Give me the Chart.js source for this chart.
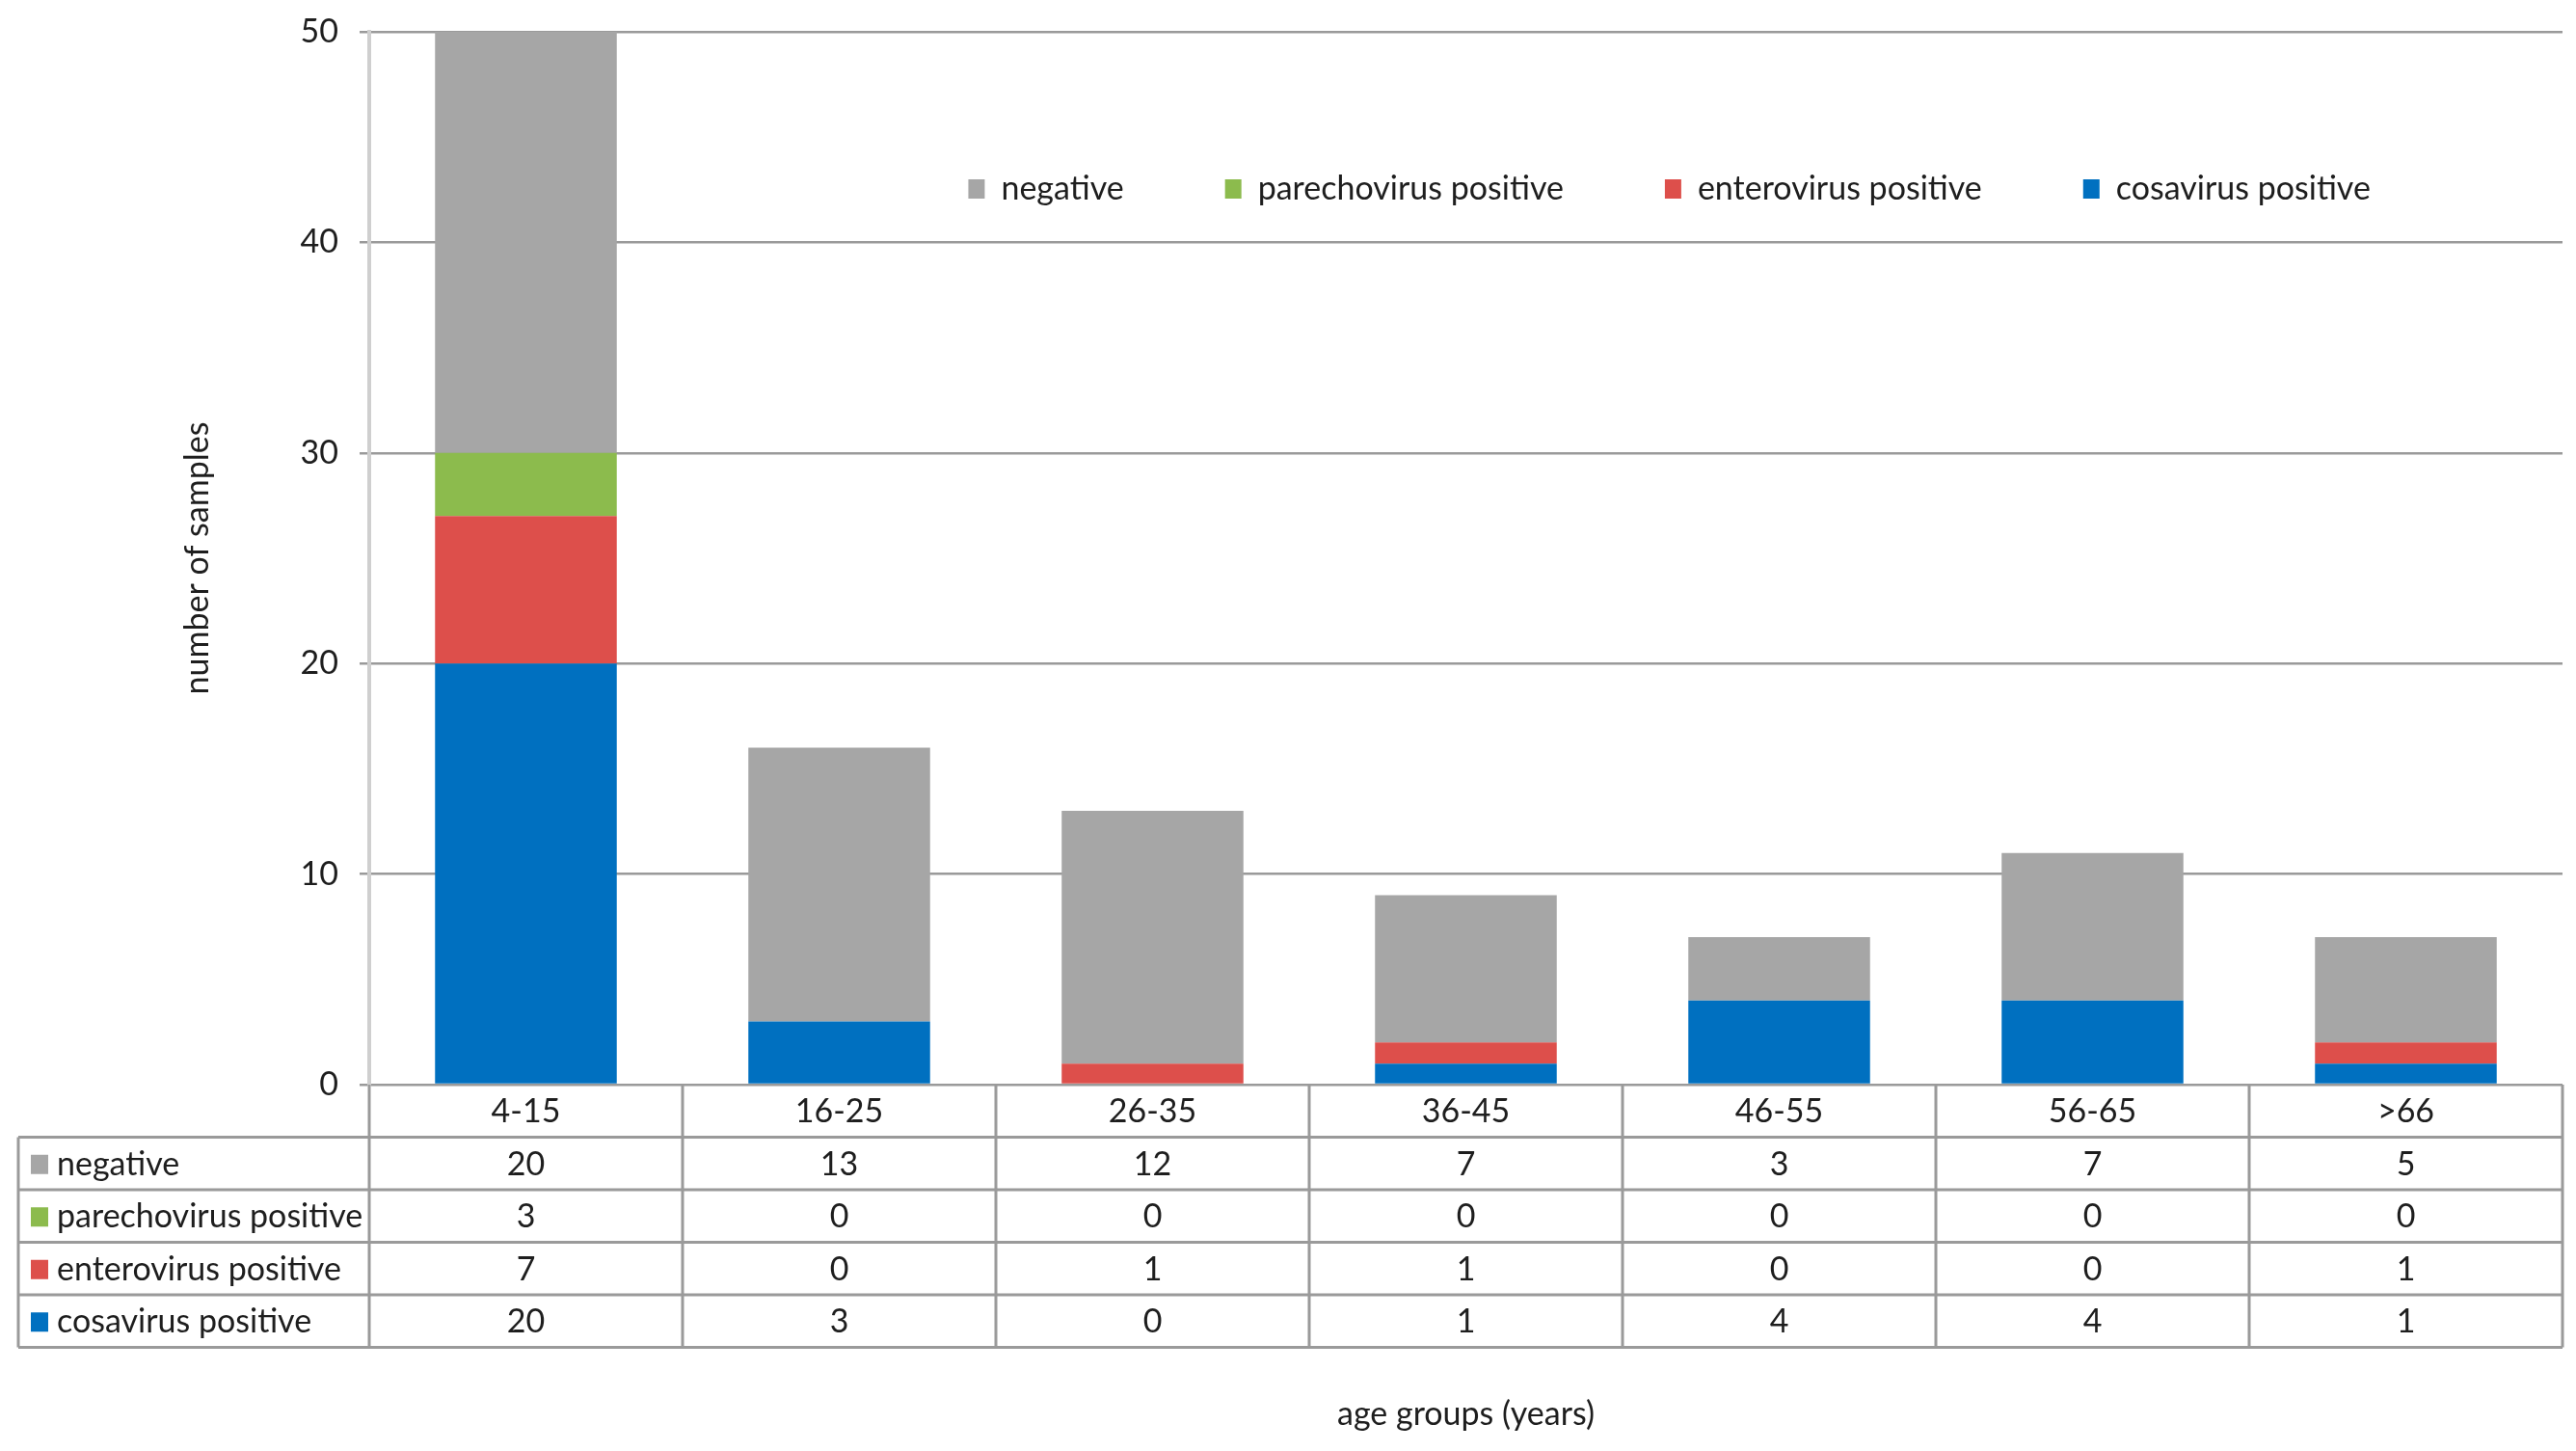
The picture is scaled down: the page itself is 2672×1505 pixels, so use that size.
<!DOCTYPE html>
<html>
<head>
<meta charset="utf-8">
<script src="https://cdn.jsdelivr.net/npm/chart.js@4.4.1/dist/chart.umd.min.js"></script>
<style>
    html, body { margin: 0; padding: 0; background: #fff; }
    #wrap { width: 2672px; height: 1505px; position: relative; }
</style>
</head>
<body>
<div id="wrap"><canvas id="chart"></canvas></div>
<script>
// === DATA ===
const ageGroups    = ['4-15', '16-25', '26-35', '36-45', '46-55', '56-65', '>66'];
const negative     = [20, 13, 12, 7, 3, 7, 5];
const parechovirus = [3, 0, 0, 0, 0, 0, 0];
const enterovirus  = [7, 0, 1, 1, 0, 0, 1];
const cosavirus    = [20, 3, 0, 1, 4, 4, 1];
const yMax = 50, yStep = 10;

// stacking order bottom -> top
const seriesNames  = ['cosavirus positive', 'enterovirus positive', 'parechovirus positive', 'negative'];
const seriesValues = [cosavirus, enterovirus, parechovirus, negative];
const seriesColors = ['#0070c0', '#dd4f4b', '#8cbb4d', '#a6a6a6'];

const FONT = "Lato, 'Open Sans', sans-serif";
const TEXT = '#1e1e1e';
const LINE = '#9a9a9a';
const FS = 34;

// === DATA TABLE UNDER THE PLOT (+ legend placement) ===
const dataTable = {
    id: 'dataTable',
    afterLayout(chart) {
        // legend is laid out as a 1px strip on top, then moved into the plot
        const lg = chart.legend, ca = chart.chartArea;
        if (!lg) return;
        const w = lg.width, h = 260;
        lg.left = ca.left + 0.227 * ca.width;
        lg.right = lg.left + w;
        lg.top = ca.top + 41;
        lg.height = h;
        lg.bottom = lg.top + h;
    },
    afterDraw(chart) {
        const {ctx, chartArea, scales: {x}} = chart;
        const n = ageGroups.length;
        const colW = (x.right - x.left) / n;
        const rowH = 54.5;
        const top = chartArea.bottom;
        const tableLeft = 19;
        const nRows = seriesNames.length;

        ctx.save();
        ctx.strokeStyle = LINE;
        ctx.lineWidth = 3;

        // verticals for the value columns
        for (let k = 0; k <= n; k++) {
            const xx = x.left + k * colW;
            ctx.beginPath();
            ctx.moveTo(xx, top);
            ctx.lineTo(xx, top + rowH * (nRows + 1));
            ctx.stroke();
        }
        // left edge of series-name column
        ctx.beginPath();
        ctx.moveTo(tableLeft, top + rowH);
        ctx.lineTo(tableLeft, top + rowH * (nRows + 1));
        ctx.stroke();
        // horizontals
        for (let r = 1; r <= nRows + 1; r++) {
            const yy = top + r * rowH;
            ctx.beginPath();
            ctx.moveTo(tableLeft, yy);
            ctx.lineTo(x.right, yy);
            ctx.stroke();
        }

        ctx.font = FS + 'px ' + FONT;
        ctx.fillStyle = TEXT;
        ctx.textBaseline = 'middle';
        ctx.textAlign = 'center';

        // header row: categories
        ageGroups.forEach((g, i) => {
            ctx.fillText(g, x.getPixelForValue(i), top + rowH / 2 + 1);
        });

        // series rows, top row = top of stack
        for (let r = 0; r < nRows; r++) {
            const s = nRows - 1 - r;
            const cy = top + rowH * (r + 1) + rowH / 2 + 1;
            ctx.fillStyle = seriesColors[s];
            ctx.fillRect(tableLeft + 13, cy - 10, 18, 20);
            ctx.fillStyle = TEXT;
            ctx.textAlign = 'left';
            ctx.fillText(seriesNames[s], tableLeft + 40, cy);
            ctx.textAlign = 'center';
            seriesValues[s].forEach((v, i) => {
                ctx.fillText(String(v), x.getPixelForValue(i), cy);
            });
        }
        ctx.restore();
    }
};

// === CHART ===
Chart.defaults.font.family = FONT;
Chart.defaults.font.size = FS;
Chart.defaults.color = TEXT;

new Chart(document.getElementById('chart'), {
    type: 'bar',
    data: {
        labels: ageGroups,
        datasets: seriesNames.map((name, i) => ({
            label: name,
            data: seriesValues[i],
            backgroundColor: seriesColors[i],
            borderWidth: 0,
            categoryPercentage: 1,
            barPercentage: 0.58
        }))
    },
    options: {
        responsive: true,
        maintainAspectRatio: false,
        devicePixelRatio: 1,
        animation: false,
        layout: { padding: { top: 32, right: 14, bottom: 0, left: 0 } },
        plugins: {
            legend: {
                position: 'top',
                align: 'start',
                reverse: true,
                maxHeight: 1,
                labels: {
                    boxWidth: 17, boxHeight: 20, padding: 105,
                    color: TEXT, font: { size: FS }
                }
            },
            tooltip: { enabled: false }
        },
        scales: {
            x: {
                stacked: true,
                ticks: { display: false },
                grid: { display: false },
                border: { display: false },
                title: {
                    display: true, text: 'age groups (years)',
                    color: TEXT, font: { size: FS },
                    padding: { top: 0, bottom: 18 }
                },
                afterFit(scale) { scale.height = 380; }
            },
            y: {
                stacked: true,
                min: 0, max: yMax,
                ticks: { stepSize: yStep, padding: 22, color: TEXT, font: { size: FS } },
                grid: { color: LINE, lineWidth: 2.5, tickLength: 10 },
                border: { display: true, color: '#cfcfcf', width: 4 },
                title: {
                    display: true, text: 'number of samples',
                    color: TEXT, font: { size: FS },
                    padding: { top: 185, bottom: 0 }
                },
                afterFit(scale) { scale.width = 383; scale.paddingTop = 0; }
            }
        }
    },
    plugins: [dataTable]
});
</script>
</body>
</html>
